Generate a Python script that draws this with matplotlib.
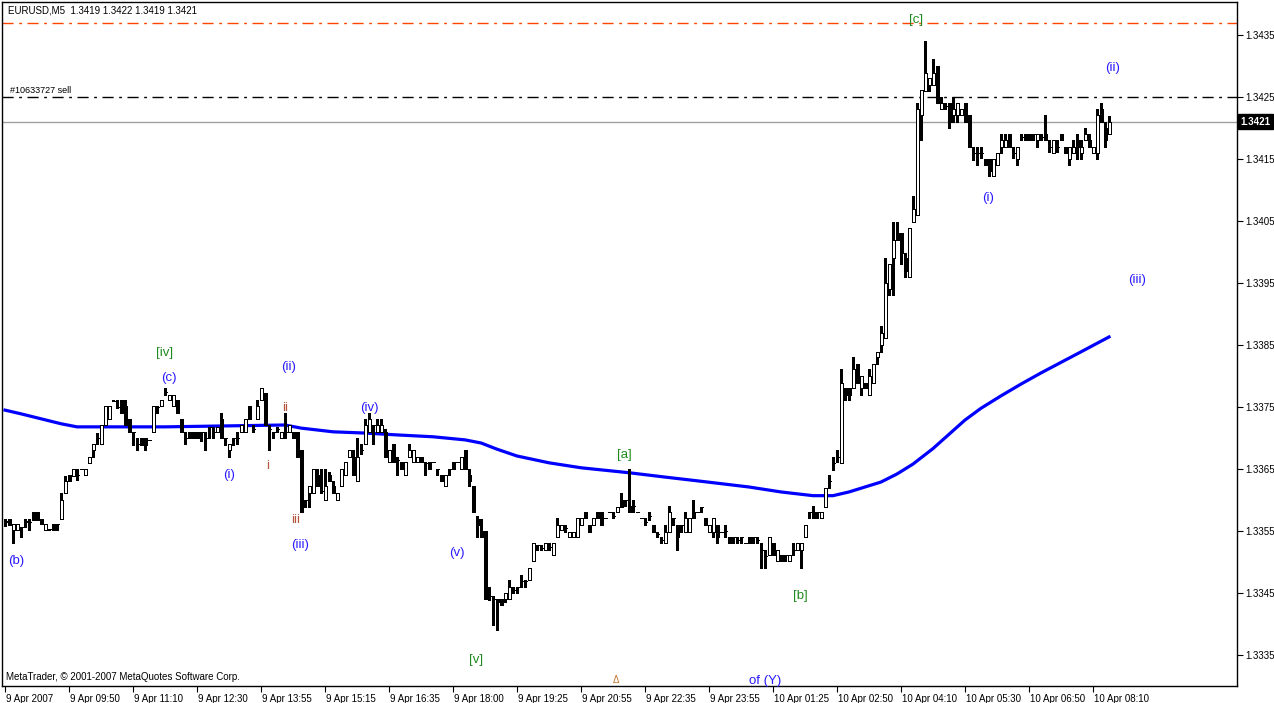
import matplotlib
matplotlib.use("Agg")
import matplotlib.pyplot as plt
import matplotlib.transforms as mtransforms
import numpy as np

# EURUSD M5 candles, values in pips above 1.3300
BASE = 1.3300

open_pips = [
    56.5, 57, 55.2, 55.2, 55.7, 56.5, 56.5, 58, 58, 57,
    55.2, 55.3, 56.1, 56.1, 57, 61.1, 64, 63.8, 64, 65,
    64, 66, 68, 70, 69, 72.1, 73, 76, 75, 76.1,
    75.1, 73, 71, 69, 70, 70, 69.7, 71, 75, 75.1,
    77.5, 76.1, 75.1, 76.1, 73, 70, 71, 71, 71, 71,
    70, 71.8, 71, 71, 73, 70, 68, 70, 70, 71,
    71, 75.1, 71.5, 73, 76.1, 77.2, 71.5, 71, 71.5, 70,
    71, 71, 71, 71, 68.1, 60, 61.1, 61.1, 64, 61.5,
    60, 64, 62.2, 60, 62.2, 64, 67, 67, 63, 68,
    69, 71, 72.1, 71, 71, 71, 66.2, 69, 66.5, 66.2,
    64, 67, 66.2, 66.2, 67, 66, 66.2, 66.2, 65, 64,
    62.2, 65, 66.2, 66.2, 65, 68.1, 64, 62.2, 57, 55,
    55, 44.5, 44, 44, 44, 44, 44, 45.5, 46, 47,
    47, 47.1, 50.1, 52.7, 52.2, 51.9, 52.5, 51.1, 54, 55.2,
    55.5, 54, 54, 54, 56, 58, 56, 56, 58, 58,
    57.1, 58, 57.5, 58, 60, 60, 59, 59, 58, 57.1,
    56.5, 57.5, 56, 54.5, 53.5, 53, 54.9, 57.1, 56, 56,
    54.9, 54.9, 58, 58, 58.9, 57.1, 54.9, 54.9, 56, 54.9,
    55, 54, 54, 53.5, 54, 53, 54, 54, 53.5, 52,
    51, 51.1, 53, 50.1, 51.1, 51.1, 50.1, 52, 52, 52,
    54, 58, 58, 58, 57.1, 58.9, 63, 66, 67, 66,
    78, 78, 78, 82, 78, 78.9, 76.9, 78.9, 83, 85,
    86.1, 94, 99, 103, 103, 99, 96, 104.9, 106, 122.1,
    126, 126.9, 126.9, 130, 123, 123.5, 124, 122.1, 122.1, 122.1,
    124, 122.1, 116, 116, 116, 115, 115, 112.2, 114, 117,
    117, 119, 116, 115, 118.5, 119, 119, 119, 118.1, 118.5,
    119, 117, 116, 117, 119, 117, 115, 116, 118.1, 116,
    118.1, 118.1, 116, 116, 123, 120, 119,
]

high_pips = [
    57, 57, 56.1, 56.1, 55.7, 57, 57, 58, 58, 57,
    56.1, 55.3, 56.1, 56.1, 61.1, 63.8, 64, 65, 65, 65,
    65, 67, 69, 70.8, 72.1, 75.1, 75.1, 76.1, 76.1, 76.1,
    76.1, 73, 71, 70, 70, 70, 69.7, 75.1, 75.1, 76.1,
    78, 77, 77, 76.1, 73, 71, 71, 71, 71, 71,
    71, 71.8, 71.8, 71.8, 74, 70, 69, 70, 71, 72.1,
    73, 75.1, 72.1, 76.1, 78, 77.2, 72.1, 71, 71.8, 71,
    74, 72.1, 71, 71, 68.1, 60, 62.2, 65, 65, 65,
    65, 64.5, 63, 61.1, 65, 66.2, 68.1, 68, 70, 69,
    73, 74, 72.1, 73, 73, 71.5, 68.1, 69, 67, 66.2,
    66.2, 69, 68.1, 67, 67, 66.2, 66.2, 66.2, 65, 64,
    64, 65, 66.2, 66.2, 67, 68.1, 65, 62.2, 57.5, 57,
    55, 46, 44.5, 44, 44, 45, 47.1, 46, 46, 47.9,
    47.1, 49, 53, 52.7, 52.7, 53, 53, 53, 57.1, 56,
    56, 54.9, 54.9, 57.1, 57.1, 58, 56, 57.1, 58, 58,
    57.1, 58, 58.1, 58.9, 61.2, 60, 65, 60, 58, 57.1,
    57.1, 58, 56, 54.9, 54, 56, 59, 57.1, 56, 56,
    58, 57.1, 60, 58, 58.9, 57.1, 56, 57.1, 56, 54.9,
    56, 54, 54, 54, 54, 53, 54, 54, 54, 53,
    51.9, 54, 53, 52, 51.1, 51.1, 51.1, 53, 53, 53,
    56, 58, 59, 58, 58, 62, 64, 67, 68.1, 81.1,
    78, 78, 83.1, 82, 80, 78.9, 81.1, 82, 83.9, 88.1,
    99, 98, 104.9, 104.9, 103, 99.9, 103.9, 109, 124, 126.1,
    134.1, 128, 131.1, 130, 125, 124, 124, 125, 124, 123,
    124, 122.1, 117, 117, 117, 115, 115, 115, 116, 119,
    119, 119, 117, 117, 119, 119, 119, 119, 119, 119,
    122.1, 118.1, 118.1, 118.1, 119, 117, 117, 118.1, 119, 118.1,
    120, 119, 117, 123, 124, 121, 122,
]

low_pips = [
    55.8, 56, 53, 55.2, 54.1, 55.7, 55.2, 56.8, 56.8, 56.1,
    55.2, 55.2, 55.2, 55.2, 57, 61.1, 63, 63.8, 63.2, 65,
    64, 66, 67, 69, 69, 72.1, 73, 76, 74.8, 74,
    72.1, 71, 68.9, 68.1, 68.9, 68.1, 69.7, 71, 74, 75.1,
    77, 76.1, 75.1, 74, 71, 69, 70, 70, 70, 69.5,
    68.1, 70, 70, 71, 70, 68.9, 67, 68.9, 69, 71,
    71, 73, 71, 73, 76.1, 72.1, 68.1, 70, 71, 70,
    70, 71, 70, 67, 58.1, 58.9, 58.9, 61.1, 62.2, 61.1,
    60, 63, 61.1, 60, 62.2, 64, 67, 64, 63, 67.5,
    69, 71, 69, 71, 71, 67, 66.2, 66.2, 64, 65,
    64, 67, 66.2, 66.2, 66.2, 64, 65, 66.2, 64, 63,
    62.2, 64, 65, 66.2, 65, 65, 62.2, 58, 54.1, 54.1,
    44, 43.8, 39.8, 39, 43, 43.5, 44, 45, 45, 46,
    46, 47.1, 50.1, 51.9, 51.9, 51.9, 51.9, 51.1, 54, 55.2,
    54.9, 54, 54, 54, 56, 57.1, 54.9, 56, 57.1, 56,
    57.1, 58, 57.1, 58, 58.9, 59, 58, 58, 58, 57.1,
    56, 56.8, 54.9, 54, 53, 53, 54.9, 56, 52, 54.9,
    54.9, 54.9, 57.1, 58, 58, 56, 54.9, 54, 53, 54.9,
    54, 53, 53, 53, 53, 53, 53, 53, 53, 49,
    49, 51.1, 51.1, 50.1, 50.1, 50.1, 50.1, 51.1, 52, 49,
    54, 57.1, 57.1, 57.1, 57.1, 58.9, 61.9, 64.8, 66.2, 66,
    76.1, 76.1, 78, 78.9, 76.9, 78, 76.9, 78.9, 82, 83.9,
    86.1, 93.1, 93.1, 102, 98, 96, 96, 104.9, 106, 118.1,
    126, 126, 126.9, 124, 123, 123, 120, 121, 121, 122.1,
    121, 117, 114.8, 114, 115.1, 114, 112.2, 112.2, 114, 116,
    117, 117, 115.1, 114, 118.1, 118.1, 118.1, 118.1, 117, 118.1,
    118.1, 116.2, 116, 116.2, 118.1, 116, 114, 116, 115, 115,
    118.1, 117, 116, 115, 121, 117, 119,
]

close_pips = [
    56.6, 56, 56.1, 56.1, 55.6, 56.6, 56.5, 56.8, 56.8, 56.1,
    56.1, 55.3, 55.2, 56.1, 60, 63, 63, 65, 64, 65,
    65, 67, 69, 70, 72.1, 75.1, 75.1, 76, 75, 74,
    72.1, 71, 71, 69, 68.9, 68.9, 69.7, 75.1, 75, 76.1,
    77.5, 77, 77, 74, 71, 70, 70, 70, 70, 71,
    70, 71.8, 71, 71.8, 70, 70, 69, 70, 70, 72.1,
    73, 73, 71.5, 75.1, 78, 72.1, 71.5, 71, 71.5, 71,
    71, 72.1, 70, 67, 58.1, 60, 62.2, 65, 62.2, 61.5,
    62.2, 63, 61.1, 61.1, 65, 66.2, 68.1, 64, 67, 68,
    72.1, 73, 72.1, 72.1, 72.1, 67, 68.1, 66.2, 66.5, 65,
    66.2, 68.1, 68.1, 67, 66.2, 66, 65, 66.2, 65, 63,
    64, 65, 65, 66.2, 67, 65, 63, 58, 56, 54.1,
    44, 44.5, 44, 43.5, 43, 45, 46, 45.5, 46, 47,
    47, 49, 53, 52.7, 52.2, 53, 52.5, 53, 56, 56,
    55.5, 54.9, 54.9, 57.1, 57.1, 57.1, 54.9, 57.1, 57.1, 56,
    57.1, 58, 57.5, 58.9, 58.9, 60, 58, 59, 58, 57.1,
    56.5, 57.5, 54.9, 54.5, 53.5, 54.9, 58, 57.1, 54, 56,
    57.1, 57.1, 57.1, 58, 58.9, 56, 56, 57.1, 54, 54.9,
    55, 53, 54, 53.5, 54, 53, 53, 54, 53.5, 52,
    51, 54, 51.1, 52, 50.1, 51.1, 51.1, 52, 53, 53,
    56, 58, 57.1, 58, 58, 62, 63, 66, 67, 78.9,
    76.9, 76.9, 81.1, 78.9, 80, 78, 80, 82, 83.9, 87,
    95, 98, 102, 102, 99.8, 97, 103.9, 107, 123, 126.1,
    128.9, 128, 128.9, 124, 124, 123.5, 121, 123, 124, 123,
    121, 117, 116, 116, 116, 114, 113, 115, 116, 118.1,
    118.1, 117, 116, 117, 118.5, 118.1, 118.1, 119, 119, 118.5,
    118.1, 117, 118.1, 117, 118.1, 116, 117, 117, 117, 117,
    119, 117, 117, 122.1, 121, 118.1, 121,
]

# moving average read at some bars
ma_bars = [0, 4, 9, 14, 18, 40, 50, 70, 74, 82, 90, 98, 107, 115, 119, 123,
           128, 136, 144, 156, 165, 173, 186, 194, 202, 207, 211, 215, 219,
           223, 227, 232, 236, 240, 244, 249, 254, 259, 264, 269, 276]
ma_pips = [74.5, 73.9, 73.1, 72.3, 71.8, 71.8, 71.9, 72.1, 71.6, 71.0, 70.8,
           70.5, 70.2, 69.7, 69.2, 68.2, 67.1, 66.0, 65.2, 64.4, 63.7, 63.1,
           62.1, 61.3, 60.7, 60.7, 61.3, 62.1, 62.9, 64.2, 65.8, 68.3, 70.6,
           72.9, 74.8, 76.8, 78.7, 80.5, 82.2, 83.9, 86.3]

price_ticks = [1.3335, 1.3345, 1.3355, 1.3365, 1.3375, 1.3385, 1.3395,
               1.3405, 1.3415, 1.3425, 1.3435]
time_labels = ["9 Apr 2007", "9 Apr 09:50", "9 Apr 11:10", "9 Apr 12:30",
               "9 Apr 13:55", "9 Apr 15:15", "9 Apr 16:35", "9 Apr 18:00",
               "9 Apr 19:25", "9 Apr 20:55", "9 Apr 22:35", "9 Apr 23:55",
               "10 Apr 01:25", "10 Apr 02:50", "10 Apr 04:10", "10 Apr 05:30",
               "10 Apr 06:50", "10 Apr 08:10"]
time_label_bars = [0, 16, 32, 48, 64, 80, 96, 112, 128, 144, 160, 176, 192,
                   208, 224, 240, 256, 272]

stop_level = 1.3437
order_level = 1.3425
bid_level = 1.3421

# wave labels: (bar, price, text, colour)
BLUE = '#2a1aff'
GREEN = '#1f8a1f'
BROWN = '#b4523c'
wave_labels = [
    (2.75, 1.33502, "(b)", BLUE),
    (40, 1.33837, "[iv]", GREEN),
    (41, 1.33797, "(c)", BLUE),
    (56, 1.33640, "(i)", BLUE),
    (65.75, 1.33655, "i", BROWN),
    (70, 1.33748, "ii", BROWN),
    (71, 1.33815, "(ii)", BLUE),
    (72.75, 1.33568, "iii", BROWN),
    (73.75, 1.33527, "(iii)", BLUE),
    (91, 1.33748, "(iv)", BLUE),
    (113, 1.33515, "(v)", BLUE),
    (117.75, 1.33342, "[v]", GREEN),
    (154.75, 1.33673, "[a]", GREEN),
    (198.75, 1.33445, "[b]", GREEN),
    (190, 1.33308, "of (Y)", BLUE),
    (227.75, 1.34374, "[c]", GREEN),
    (245.75, 1.34087, "(i)", BLUE),
    (277, 1.34297, "(ii)", BLUE),
    (283, 1.33955, "(iii)", BLUE),
]

plt.rcParams['font.family'] = ['Liberation Sans', 'DejaVu Sans']

opens = BASE + np.array(open_pips) / 10000
highs = BASE + np.array(high_pips) / 10000
lows = BASE + np.array(low_pips) / 10000
closes = BASE + np.array(close_pips) / 10000
ma = BASE + np.array(ma_pips) / 10000
bars = np.arange(len(opens))

fig = plt.figure(figsize=(12.74, 7.03), dpi=100)
ax = fig.add_axes([2 / 1274, 17 / 703, 1235 / 1274, 684 / 703])

ax.set_xlim(-0.75, 308.0)
ax.set_ylim(1.33300, 1.344033)

# level lines
ax.axhline(stop_level, color='#ff4500', lw=1, ls=(0, (8, 4, 2, 4)), zorder=1)
ax.axhline(order_level, color='black', lw=1, ls=(0, (8, 4, 2, 4)), zorder=1)
ax.axhline(bid_level, color='#a0a0a0', lw=1, zorder=1)

# candles
ax.vlines(bars, lows, highs, color='black', lw=0.75, zorder=3, antialiased=False)
up = closes >= opens
body_bottom = np.minimum(opens, closes)
body_height = np.abs(closes - opens)
ax.bar(bars, body_height, bottom=body_bottom, width=0.75,
       color=np.where(up, 'white', 'black'), edgecolor='black', lw=0.72,
       zorder=4, antialiased=False)

ax.plot(ma_bars, ma, color='#0000ff', lw=2.3, zorder=2)

for bx, py, txt, col in wave_labels:
    ax.text(bx, py, txt, color=col, fontsize=9.5, ha='center', va='center')
ax.text(152.75, 1.33310, "\u0394", color='#c8742a', fontsize=7, ha='center', va='center')

ax.text(0.005, 0.988, "EURUSD,M5  1.3419 1.3422 1.3419 1.3421", transform=ax.transAxes,
        fontsize=7, ha='left', va='center')
ax.text(1.2, order_level + 0.00003, "#10633727 sell", fontsize=6.5, ha='left', va='bottom')
ax.text(0.003, 0.013, "MetaTrader, \u00a9 2001-2007 MetaQuotes Software Corp.",
        transform=ax.transAxes, fontsize=7, ha='left', va='center')

# axes
ax.yaxis.tick_right()
ax.set_yticks(price_ticks)
ax.set_yticklabels(["%.4f" % p for p in price_ticks])
ax.set_xticks(time_label_bars)
ax.set_xticklabels(time_labels)
ax.tick_params(axis='both', direction='out', length=4, width=0.8, labelsize=7, pad=2)
offset = mtransforms.ScaledTranslation(1 / 100, 0, fig.dpi_scale_trans)
for lab in ax.get_xticklabels():
    lab.set_horizontalalignment('left')
    lab.set_transform(lab.get_transform() + offset)
for sp in ax.spines.values():
    sp.set_color('black')
    sp.set_linewidth(1)

# current bid box on the price scale
trans = mtransforms.blended_transform_factory(ax.transAxes, ax.transData)
ax.text(1.003, bid_level, "1.3421", transform=trans, color='white', fontsize=7,
        ha='left', va='center', fontweight='bold',
        bbox=dict(facecolor='black', edgecolor='black', pad=1.8))

fig.savefig("out.png", dpi=100, facecolor='white')
